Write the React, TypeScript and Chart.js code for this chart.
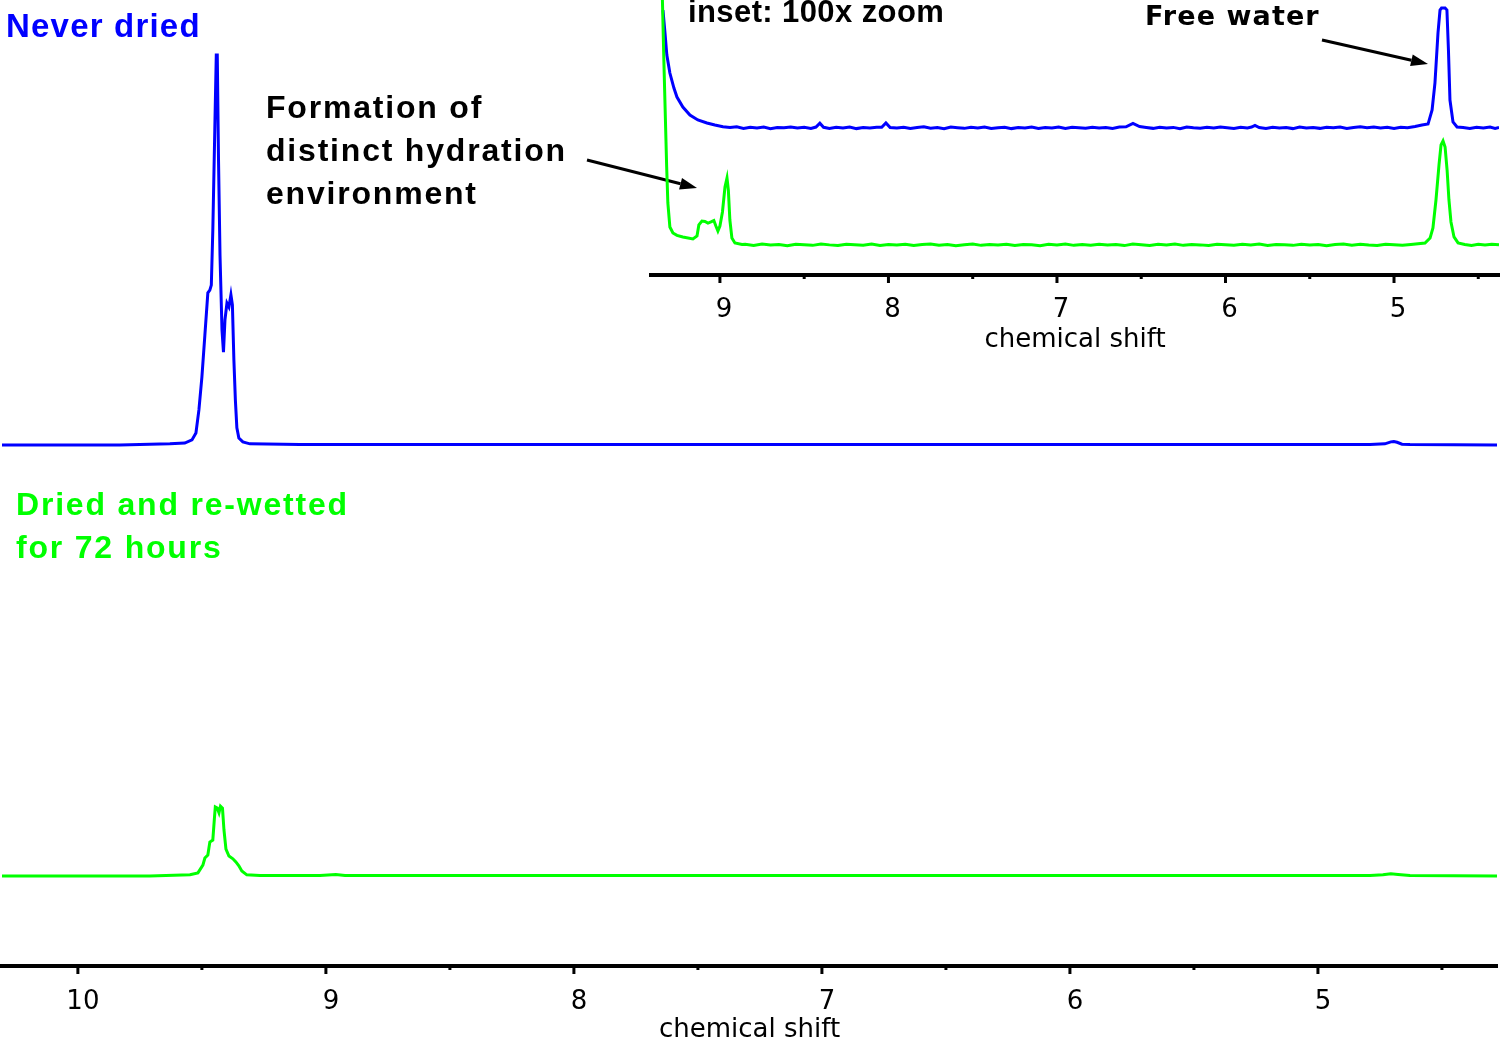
import React, { useEffect, useRef } from 'react';
import { Chart, registerables } from 'chart.js';

Chart.register(...registerables);

// ---------- axis ticks ----------
const mainMajorTicks = [10, 9, 8, 7, 6, 5];
const mainMinorTicks = [9.5, 8.5, 7.5, 6.5, 5.5, 4.5];
const insetMajorTicks = [9, 8, 7, 6, 5];
const insetMinorTicks = [8.5, 7.5, 6.5, 5.5, 4.5];
const axisTitle = 'chemical shift';

// ---------- main spectrum: never dried ----------
const neverDriedShift = [
  10.306, 9.831, 9.629, 9.569, 9.540, 9.524, 9.512, 9.500, 9.488, 9.476,
  9.468, 9.462, 9.456, 9.448, 9.442, 9.438, 9.433, 9.427, 9.419, 9.413,
  9.407, 9.399, 9.391, 9.383, 9.377, 9.371, 9.365, 9.359, 9.351, 9.335,
  9.306, 9.105, 4.790, 4.730, 4.706, 4.694, 4.681, 4.661, 4.629, 4.278,
];
const neverDriedIntensity = [
  0, 0, 0.003, 0.005, 0.013, 0.031, 0.090, 0.174, 0.282, 0.390,
  0.397, 0.410, 0.550, 0.808, 1.0, 1.0, 0.731, 0.487, 0.295, 0.238,
  0.321, 0.364, 0.354, 0.385, 0.359, 0.218, 0.115, 0.044, 0.018, 0.008,
  0.003, 0.001, 0.001, 0.003, 0.008, 0.009, 0.007, 0.002, 0.001, 0,
];

// ---------- main spectrum: dried and re-wetted ----------
const rewettedShift = [
  10.306, 9.710, 9.548, 9.516, 9.496, 9.488, 9.476, 9.468, 9.456, 9.450,
  9.446, 9.438, 9.431, 9.425, 9.417, 9.411, 9.403, 9.391, 9.375, 9.363,
  9.351, 9.339, 9.319, 9.266, 9.024, 8.960, 8.923, 4.790, 4.738, 4.706,
  4.677, 4.629, 4.278,
];
const rewettedIntensity = [
  0, 0, 0.003, 0.008, 0.028, 0.046, 0.054, 0.087, 0.092, 0.144,
  0.177, 0.174, 0.162, 0.179, 0.174, 0.118, 0.069, 0.051, 0.044, 0.036,
  0.026, 0.013, 0.003, 0.001, 0.001, 0.004, 0.001, 0.001, 0.003, 0.006,
  0.004, 0.001, 0,
];

// ---------- inset (100x): never dried ----------
const insetNeverDriedShift = [
  9.338, 9.326, 9.315, 9.297, 9.273, 9.255, 9.220, 9.178, 9.131, 9.077,
  9.030, 8.982, 8.94, 8.90, 8.86, 8.82, 8.78, 8.74, 8.70, 8.66,
  8.62, 8.58, 8.54, 8.50, 8.46, 8.43, 8.407, 8.385, 8.35, 8.31,
  8.27, 8.23, 8.19, 8.15, 8.11, 8.07, 8.04, 8.015, 7.99, 7.95,
  7.91, 7.87, 7.83, 7.79, 7.75, 7.71, 7.67, 7.63, 7.59, 7.55,
  7.51, 7.47, 7.43, 7.39, 7.35, 7.31, 7.27, 7.23, 7.19, 7.15,
  7.11, 7.07, 7.03, 6.99, 6.95, 6.91, 6.87, 6.83, 6.79, 6.75,
  6.71, 6.67, 6.63, 6.59, 6.549, 6.51, 6.47, 6.43, 6.39, 6.35,
  6.31, 6.27, 6.23, 6.19, 6.15, 6.11, 6.07, 6.03, 5.99, 5.95,
  5.91, 5.87, 5.845, 5.825, 5.80, 5.76, 5.72, 5.68, 5.64, 5.60,
  5.56, 5.52, 5.48, 5.44, 5.40, 5.36, 5.32, 5.28, 5.24, 5.20,
  5.16, 5.12, 5.08, 5.04, 5.00, 4.96, 4.92, 4.875, 4.834, 4.798,
  4.774, 4.757, 4.739, 4.727, 4.718, 4.697, 4.686, 4.677, 4.668, 4.650,
  4.626, 4.59, 4.55, 4.51, 4.47, 4.43, 4.40, 4.377,
];
const insetNeverDriedIntensity = [
  0.983, 0.792, 0.608, 0.458, 0.333, 0.258, 0.175, 0.108, 0.067, 0.042,
  0.025, 0.010, 0.004, 0.010, -0.004, 0.006, 0.000, 0.008, -0.006, 0.004,
  0.002, 0.009, 0.000, 0.006, -0.003, 0.008, 0.040, 0.006, -0.004, 0.006,
  0.000, 0.008, -0.005, 0.004, 0.001, 0.007, 0.006, 0.042, 0.004, 0.000,
  0.007, -0.004, 0.005, 0.010, -0.002, 0.004, -0.006, 0.008, 0.002, -0.003,
  0.006, 0.000, 0.009, -0.004, 0.003, 0.007, -0.005, 0.004, 0.001, 0.008,
  -0.003, 0.005, 0.000, 0.009, -0.004, 0.006, 0.003, -0.002, 0.007, 0.000,
  0.005, -0.003, 0.008, 0.010, 0.038, 0.012, 0.004, -0.003, 0.007, 0.000,
  0.005, -0.006, 0.008, 0.002, -0.002, 0.006, 0.000, 0.009, 0.003, -0.004,
  0.006, 0.001, 0.008, 0.022, 0.004, -0.004, 0.007, 0.001, 0.005, -0.005,
  0.008, 0.000, 0.004, -0.003, 0.006, 0.002, 0.008, -0.004, 0.005, 0.010,
  0.003, 0.008, 0.000, 0.006, -0.003, 0.007, 0.002, 0.012, 0.025, 0.033,
  0.150, 0.375, 0.792, 0.983, 1.0, 1.0, 0.983, 0.650, 0.233, 0.050,
  0.008, 0.004, -0.004, 0.006, 0.000, 0.008, -0.003, 0.004,
];

// ---------- inset (100x): dried and re-wetted ----------
const insetRewettedShift = [
  9.344, 9.332, 9.316, 9.309, 9.297, 9.279, 9.255, 9.220, 9.160, 9.136,
  9.125, 9.107, 9.089, 9.071, 9.053, 9.036, 9.024, 9.012, 9.000, 8.985,
  8.970, 8.958, 8.950, 8.941, 8.929, 8.911, 8.869,
  8.85, 8.80, 8.75, 8.70, 8.65, 8.60, 8.55, 8.50, 8.45, 8.40,
  8.35, 8.30, 8.25, 8.20, 8.15, 8.10, 8.05, 8.00, 7.95, 7.90,
  7.85, 7.80, 7.75, 7.70, 7.65, 7.60, 7.55, 7.50, 7.45, 7.40,
  7.35, 7.30, 7.25, 7.20, 7.15, 7.10, 7.05, 7.00, 6.95, 6.90,
  6.85, 6.80, 6.75, 6.70, 6.65, 6.60, 6.55, 6.50, 6.45, 6.40,
  6.35, 6.30, 6.25, 6.20, 6.15, 6.10, 6.05, 6.00, 5.95, 5.90,
  5.85, 5.80, 5.75, 5.70, 5.65, 5.60, 5.55, 5.50, 5.45, 5.40,
  5.35, 5.30, 5.25, 5.20, 5.15, 5.10, 5.05, 5.00, 4.95, 4.90,
  4.816, 4.786, 4.769, 4.751, 4.733, 4.721, 4.709, 4.697, 4.685, 4.674,
  4.662, 4.644, 4.620, 4.58, 4.54, 4.50, 4.46, 4.42, 4.377,
];
const insetRewettedIntensity = [
  2.2, 1.5, 0.65, 0.35, 0.15, 0.10, 0.08, 0.067, 0.05, 0.075,
  0.167, 0.200, 0.196, 0.183, 0.192, 0.204, 0.158, 0.117, 0.158, 0.275,
  0.483, 0.558, 0.458, 0.208, 0.058, 0.017, 0.004,
  0.006, -0.004, 0.008, 0.000, 0.005, -0.006, 0.007, 0.002, -0.003, 0.009,
  0.001, -0.005, 0.006, 0.003, -0.002, 0.008, -0.004, 0.005, 0.000, 0.007,
  -0.005, 0.004, 0.009, -0.002, 0.005, -0.006, 0.003, 0.008, -0.003, 0.004,
  0.000, 0.007, -0.004, 0.005, 0.002, -0.006, 0.006, 0.001, 0.008, -0.003,
  0.004, -0.002, 0.007, 0.000, 0.005, -0.005, 0.008, 0.002, -0.004, 0.006,
  0.000, 0.009, -0.003, 0.004, 0.001, -0.005, 0.007, 0.002, -0.002, 0.006,
  0.000, 0.008, -0.004, 0.005, 0.002, -0.003, 0.007, 0.000, 0.005, -0.006,
  0.004, 0.009, -0.002, 0.006, 0.000, -0.004, 0.007, 0.003, -0.003, 0.005,
  0.017, 0.058, 0.142, 0.375, 0.667, 0.833, 0.867, 0.817, 0.625, 0.375,
  0.192, 0.067, 0.017, 0.004, -0.004, 0.006, 0.000, 0.007, 0.002,
];

const BLUE = '#0000ff';
const GREEN = '#00ff00';

const toPoints = (xs: number[], ys: number[]) => xs.map((x, i) => ({ x, y: ys[i] }));

type Arrow = { x1: number; y1: number; x2: number; y2: number };

function makeDecorPlugin(major: number[], minor: number[], majorLen: number, minorLen: number, arrows: Arrow[]) {
  return {
    id: 'decor',
    afterDraw(chart: any) {
      const ctx = chart.ctx as CanvasRenderingContext2D;
      const scale = chart.scales.x;
      const y = chart.chartArea.bottom;
      ctx.save();
      ctx.strokeStyle = '#000';
      ctx.fillStyle = '#000';
      ctx.lineWidth = 3;
      ctx.lineCap = 'butt';
      const tick = (v: number, len: number) => {
        const x = scale.getPixelForValue(v);
        ctx.beginPath();
        ctx.moveTo(x, y);
        ctx.lineTo(x, y + len);
        ctx.stroke();
      };
      major.forEach((v) => tick(v, majorLen));
      minor.forEach((v) => tick(v, minorLen));
      arrows.forEach((a) => {
        const ang = Math.atan2(a.y2 - a.y1, a.x2 - a.x1);
        const headLen = 17;
        const headHalf = 6;
        const bx = a.x2 - headLen * Math.cos(ang);
        const by = a.y2 - headLen * Math.sin(ang);
        ctx.lineWidth = 3;
        ctx.beginPath();
        ctx.moveTo(a.x1, a.y1);
        ctx.lineTo(bx, by);
        ctx.stroke();
        ctx.beginPath();
        ctx.moveTo(a.x2, a.y2);
        ctx.lineTo(bx + headHalf * Math.sin(ang), by - headHalf * Math.cos(ang));
        ctx.lineTo(bx - headHalf * Math.sin(ang), by + headHalf * Math.cos(ang));
        ctx.closePath();
        ctx.fill();
      });
      ctx.restore();
    },
  };
}

function xScale(min: number, max: number, ticks: number[], height: number, labelOffset: number, tickPad: number, titlePadBottom: number) {
  return {
    type: 'linear',
    reverse: true,
    min,
    max,
    offset: false,
    afterBuildTicks: (s: any) => {
      s.ticks = ticks.map((v) => ({ value: v }));
    },
    afterFit: (s: any) => {
      s.height = height;
    },
    grid: { display: false, drawTicks: false, drawOnChartArea: false },
    border: { display: true, color: '#000', width: 4 },
    ticks: {
      color: '#000',
      font: { family: 'DejaVu Sans', size: 26 },
      padding: tickPad,
      labelOffset,
      maxRotation: 0,
      autoSkip: false,
      callback: (v: any) => String(v),
    },
    title: {
      display: true,
      text: axisTitle,
      color: '#000',
      font: { family: 'DejaVu Sans', size: 26, lineHeight: 1 },
      padding: { top: 0, bottom: titlePadBottom },
    },
  };
}

function MainChart() {
  const ref = useRef<HTMLCanvasElement | null>(null);
  useEffect(() => {
    if (!ref.current) return;
    const chart = new Chart(ref.current, {
      type: 'line',
      data: {
        datasets: [
          {
            label: 'Never dried',
            data: toPoints(neverDriedShift, neverDriedIntensity),
            borderColor: BLUE,
            borderWidth: 3,
            pointRadius: 0,
            tension: 0,
            fill: false,
            yAxisID: 'yb',
          },
          {
            label: 'Dried and re-wetted for 72 hours',
            data: toPoints(rewettedShift, rewettedIntensity),
            borderColor: GREEN,
            borderWidth: 3,
            pointRadius: 0,
            tension: 0,
            fill: false,
            yAxisID: 'yg',
          },
        ],
      },
      options: {
        animation: false,
        responsive: false,
        events: [],
        layout: { padding: { left: 2, right: 3, top: 0, bottom: 0 } },
        plugins: { legend: { display: false }, tooltip: { enabled: false } },
        scales: {
          x: xScale(4.278, 10.306, mainMajorTicks, 73, 5, 21, -4) as any,
          yb: { display: false, min: -1.3359, max: 1.14103 },
          yg: { display: false, min: -0.23077, max: 2.24615 },
        },
      } as any,
      plugins: [
        makeDecorPlugin(mainMajorTicks, mainMinorTicks, 8, 4, [
          { x1: 587, y1: 160, x2: 697, y2: 188 },
          { x1: 1322, y1: 40, x2: 1428, y2: 64 },
        ]),
      ],
    } as any);
    return () => chart.destroy();
  }, []);
  return <canvas ref={ref} width={1500} height={1039} style={{ position: 'absolute', left: 0, top: 0 }} />;
}

function InsetChart() {
  const ref = useRef<HTMLCanvasElement | null>(null);
  useEffect(() => {
    if (!ref.current) return;
    const chart = new Chart(ref.current, {
      type: 'line',
      data: {
        datasets: [
          {
            label: 'Dried and re-wetted (100x)',
            data: toPoints(insetRewettedShift, insetRewettedIntensity),
            borderColor: GREEN,
            borderWidth: 3,
            pointRadius: 0,
            tension: 0,
            fill: false,
            yAxisID: 'yg',
          },
          {
            label: 'Never dried (100x)',
            data: toPoints(insetNeverDriedShift, insetNeverDriedIntensity),
            borderColor: BLUE,
            borderWidth: 3,
            pointRadius: 0,
            tension: 0,
            fill: false,
            yAxisID: 'yb',
          },
        ],
      },
      options: {
        animation: false,
        responsive: false,
        events: [],
        layout: { padding: { left: 11, right: 1, top: 0, bottom: 0 } },
        plugins: { legend: { display: false }, tooltip: { enabled: false } },
        scales: {
          x: xScale(4.377, 9.409, insetMajorTicks, 85, 4, 20, 7) as any,
          yb: { display: false, min: -1.225, max: 1.06667 },
          yg: { display: false, min: -0.25, max: 2.04167 },
        },
      } as any,
      plugins: [makeDecorPlugin(insetMajorTicks, insetMinorTicks, 8, 4, [])],
    } as any);
    return () => chart.destroy();
  }, []);
  return <canvas ref={ref} width={860} height={360} style={{ position: 'absolute', left: 640, top: 0 }} />;
}

const arialBold = '"Liberation Sans", Arial, sans-serif';

function Label(props: {
  text: string;
  left: number;
  top: number;
  size: number;
  lh: number;
  color: string;
  ls: number;
  family?: string;
}) {
  return (
    <div
      style={{
        position: 'absolute',
        left: props.left,
        top: props.top,
        fontFamily: props.family || arialBold,
        fontWeight: 'bold',
        fontSize: props.size,
        lineHeight: `${props.lh}px`,
        letterSpacing: `${props.ls}px`,
        color: props.color,
        whiteSpace: 'pre',
      }}
    >
      {props.text}
    </div>
  );
}

export default function App() {
  return (
    <div
      style={{
        position: 'absolute',
        left: 0,
        top: 0,
        width: 1500,
        height: 1039,
        overflow: 'hidden',
        background: '#fff',
      }}
    >
      <MainChart />
      <InsetChart />
      <Label text="Never dried" left={6} top={6} size={33} lh={40} color={BLUE} ls={1.2} />
      <Label
        text={'Formation of\ndistinct hydration\nenvironment'}
        left={266}
        top={86}
        size={32}
        lh={43}
        color="#000"
        ls={1.8}
      />
      <Label
        text={'Dried and re-wetted\nfor 72 hours'}
        left={16}
        top={483}
        size={32}
        lh={43}
        color={GREEN}
        ls={1.8}
      />
      <Label text="inset: 100x zoom" left={688} top={-3} size={31} lh={30} color="#000" ls={0.4} />
      <Label
        text="Free water"
        left={1145}
        top={2}
        size={27}
        lh={27}
        color="#000"
        ls={1.1}
        family='"DejaVu Sans", Verdana, sans-serif'
      />
    </div>
  );
}
